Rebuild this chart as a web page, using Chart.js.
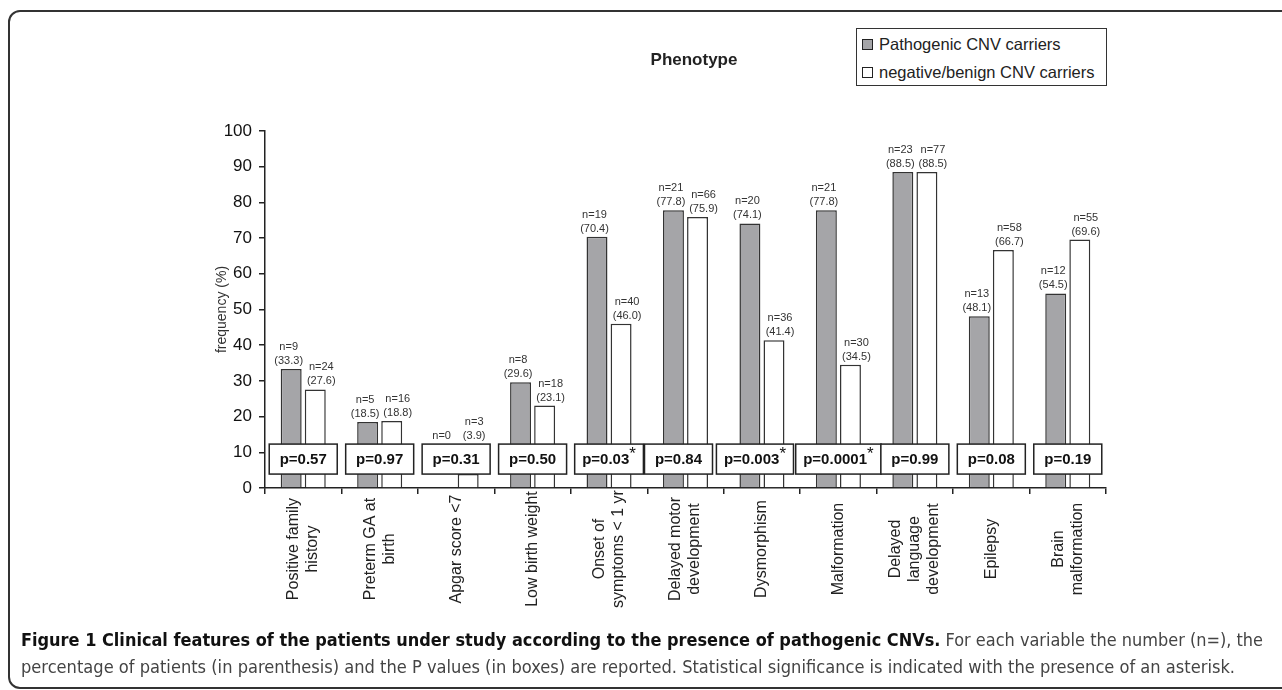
<!DOCTYPE html>
<html>
<head>
<meta charset="utf-8">
<script src="https://cdn.jsdelivr.net/npm/chart.js@4/dist/chart.umd.min.js"></script>
<style>
  body { margin: 0; width: 1282px; height: 690px; overflow: hidden; background: #fff; position: relative; font-family: "Liberation Sans", Arial, sans-serif; }
  #frame { position: absolute; left: 8px; top: 10px; width: 1320px; height: 675px; border: 2px solid #333; border-radius: 12px; }
  #chart { position: absolute; left: 0; top: 0; }
  #title { position: absolute; left: 594px; top: 50px; width: 200px; text-align: center; font-weight: bold; font-size: 17px; line-height: 20px; color: #222; }
  #legend { position: absolute; left: 856px; top: 28px; width: 249px; height: 56px; border: 1px solid #333; background: #fff; font-size: 16.5px; color: #222; }
  #legend div { position: absolute; left: 5px; height: 20px; line-height: 20px; white-space: nowrap; }
  #legend span.sw { display: inline-block; width: 9px; height: 9px; border: 1px solid #222; margin-right: 6px; vertical-align: 0px; }
  #caption { position: absolute; left: 21px; top: 627px; font-family: "Liberation Sans Narrow", "DejaVu Sans Condensed", "Open Sans", sans-serif; font-size: 17px; line-height: 27px; color: #444; }
  #caption span.line { display: inline-block; white-space: nowrap; transform-origin: left center; }
  #caption b { color: #111; }
</style>
</head>
<body>
<div id="frame"></div>
<canvas id="chart" width="1282" height="690"></canvas>
<div id="title">Phenotype</div>
<div id="legend">
  <div style="top:5px"><span class="sw" style="background:#a5a5a8"></span>Pathogenic CNV carriers</div>
  <div style="top:33px"><span class="sw" style="background:#fff"></span>negative/benign CNV carriers</div>
</div>
<div id="caption">
  <span class="line" data-w="1242"><b>Figure 1 Clinical features of the patients under study according to the presence of pathogenic CNVs.</b> For each variable the number (n=), the</span><br>
  <span class="line" data-w="1214">percentage of patients (in parenthesis) and the P values (in boxes) are reported. Statistical significance is indicated with the presence of an asterisk.</span>
</div>
<script>
const categories = [
  ["Positive family", "history"],
  ["Preterm GA at", "birth"],
  ["Apgar score <7"],
  ["Low birth weight"],
  ["Onset of", "symptoms < 1 yr"],
  ["Delayed motor", "development"],
  ["Dysmorphism"],
  ["Malformation"],
  ["Delayed", "language", "development"],
  ["Epilepsy"],
  ["Brain", "malformation"]
];
const pathogenicPct = [33.3, 18.5, 0, 29.6, 70.4, 77.8, 74.1, 77.8, 88.5, 48.1, 54.5];
const pathogenicN = [9, 5, 0, 8, 19, 21, 20, 21, 23, 13, 12];
const benignPct = [27.6, 18.8, 3.9, 23.1, 46.0, 75.9, 41.4, 34.5, 88.5, 66.7, 69.6];
const benignN = [24, 16, 3, 18, 40, 66, 36, 30, 77, 58, 55];
const pValues = ["p=0.57", "p=0.97", "p=0.31", "p=0.50", "p=0.03", "p=0.84", "p=0.003", "p=0.0001", "p=0.99", "p=0.08", "p=0.19"];
const significant = [false, false, false, false, true, false, true, true, false, false, false];
const yTicks = [0, 10, 20, 30, 40, 50, 60, 70, 80, 90, 100];

const FONT = '"Liberation Sans", Arial, sans-serif';
const counts = [pathogenicN, benignN];
const labelShift = [-2.5, 6]; // labels sit a bit apart from the bar centres
const boxShift = [0, 0, 0, 0, 0, -7, -7, 0, 0, 0, 0]; // make room for the wide p=0.0001 box

// n= / (percent) labels, p-value boxes and x labels
const overlay = {
  id: 'overlay',
  afterDatasetsDraw(chart) {
    const { ctx, scales: { x, y } } = chart;
    const boxTop = y.getPixelForValue(12.3);
    const boxBot = y.getPixelForValue(3.9);
    ctx.save();
    ctx.font = '11px ' + FONT;
    ctx.fillStyle = '#333';
    ctx.textAlign = 'center';
    ctx.textBaseline = 'alphabetic';
    chart.data.datasets.forEach((ds, di) => {
      chart.getDatasetMeta(di).data.forEach((bar, i) => {
        const n = counts[di][i];
        const top = Math.min(bar.y, boxTop) - 5;
        const lx = bar.x + labelShift[di];
        if (n === 0) {
          ctx.fillText('n=0', lx, top);
        } else {
          ctx.fillText('(' + ds.data[i].toFixed(1) + ')', lx, top);
          ctx.fillText('n=' + n, lx, top - 14);
        }
      });
    });

    pValues.forEach((p, i) => {
      const cx = x.getPixelForValue(i) + boxShift[i];
      ctx.font = 'bold 15px ' + FONT;
      const tw = ctx.measureText(p).width;
      ctx.font = '17px ' + FONT;
      const sw = significant[i] ? ctx.measureText('*').width : 0;
      const w = tw + sw;
      const bw = Math.max(68, w + 15);
      ctx.fillStyle = '#fff';
      ctx.strokeStyle = '#222';
      ctx.lineWidth = 1.5;
      ctx.fillRect(cx - bw / 2, boxTop, bw, boxBot - boxTop);
      ctx.strokeRect(cx - bw / 2, boxTop, bw, boxBot - boxTop);
      const mid = (boxTop + boxBot) / 2;
      ctx.fillStyle = '#111';
      ctx.textAlign = 'left';
      ctx.textBaseline = 'middle';
      ctx.font = 'bold 15px ' + FONT;
      ctx.fillText(p, cx - w / 2, mid + 1);
      if (significant[i]) {
        ctx.font = '17px ' + FONT;
        ctx.fillText('*', cx - w / 2 + tw, mid - 5);
      }
    });

    ctx.font = '16px ' + FONT;
    ctx.fillStyle = '#222';
    ctx.textAlign = 'center';
    ctx.textBaseline = 'middle';
    chart.data.labels.forEach((lines, i) => {
      const cx = x.getPixelForValue(i);
      lines.forEach((line, j) => {
        ctx.save();
        ctx.translate(cx + (j - (lines.length - 1) / 2) * 19, 549);
        ctx.rotate(-Math.PI / 2);
        ctx.fillText(line, 0, 0);
        ctx.restore();
      });
    });
    ctx.restore();
  }
};

new Chart(document.getElementById('chart'), {
  type: 'bar',
  data: {
    labels: categories,
    datasets: [
      { label: 'Pathogenic CNV carriers', data: pathogenicPct, backgroundColor: '#a5a5a8', borderColor: '#333', borderWidth: 1.5, borderSkipped: 'bottom' },
      { label: 'negative/benign CNV carriers', data: benignPct, backgroundColor: '#fff', borderColor: '#333', borderWidth: 1.5, borderSkipped: 'bottom' }
    ]
  },
  options: {
    responsive: false,
    animation: false,
    devicePixelRatio: 1,
    layout: { padding: { left: 205, right: 176, top: 131, bottom: 0 } },
    datasets: { bar: { categoryPercentage: 0.63, barPercentage: 0.87 } },
    plugins: { legend: { display: false }, tooltip: { enabled: false } },
    scales: {
      x: {
        ticks: { display: false },
        grid: { drawOnChartArea: false, tickLength: 6, color: '#222', lineWidth: 1.5 },
        border: { color: '#222', width: 1.5 },
        afterFit(s) { s.height = 202; }
      },
      y: {
        min: 0, max: 100,
        afterBuildTicks(s) { s.ticks = yTicks.map(v => ({ value: v })); },
        ticks: { font: { size: 17, family: FONT }, color: '#111', padding: 7 },
        grid: { drawOnChartArea: false, tickLength: 6, color: '#222', lineWidth: 1.5 },
        border: { color: '#222', width: 1.5 },
        title: { display: true, text: 'frequency (%)', font: { size: 14, family: FONT }, color: '#333', padding: { top: 9 } },
        afterFit(s) { s.width = 60; }
      }
    }
  },
  plugins: [overlay]
});

// fit caption lines to the reference widths
document.querySelectorAll('#caption span.line').forEach(el => {
  const w = el.getBoundingClientRect().width;
  el.style.transform = 'scaleX(' + (el.dataset.w / w) + ')';
});
</script>
</body>
</html>
